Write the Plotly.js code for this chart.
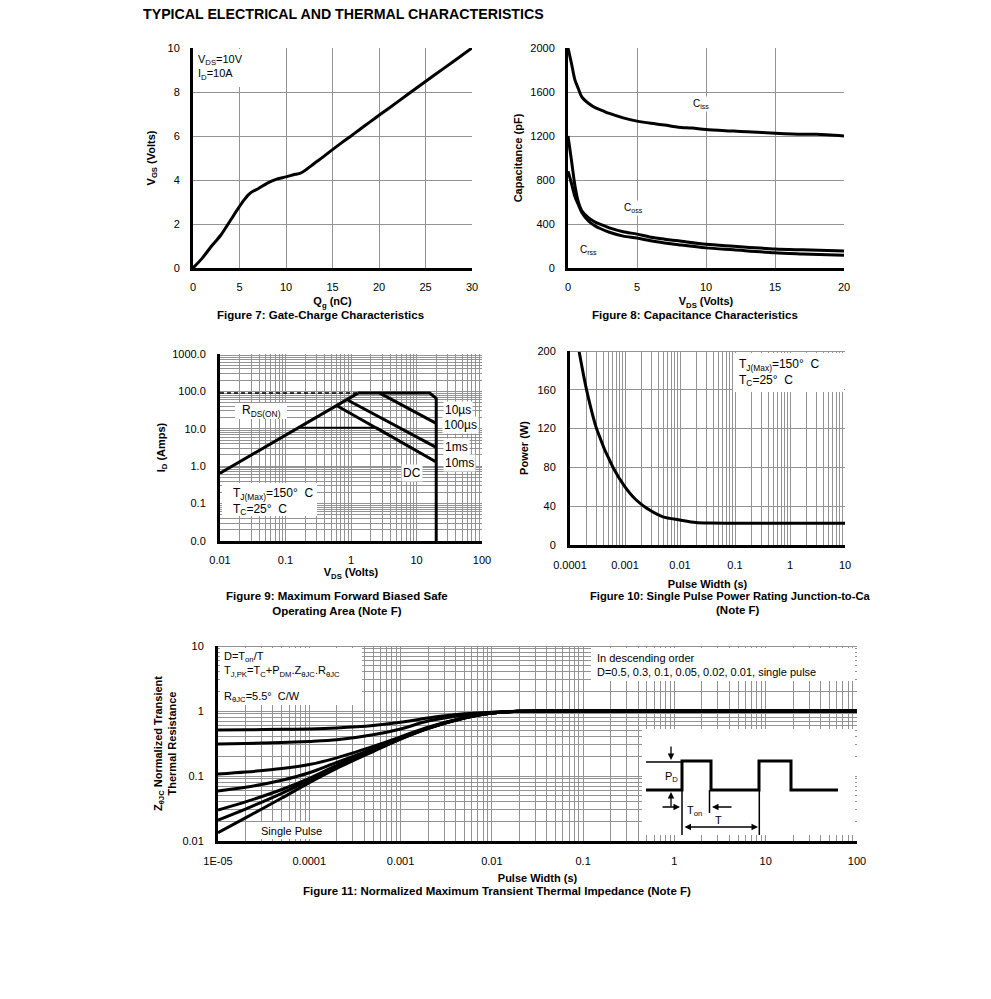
<!DOCTYPE html>
<html><head><meta charset="utf-8">
<script src="https://cdn.plot.ly/plotly-3.0.1.min.js"></script>
<style>html,body{margin:0;padding:0;background:#fff}#chart{width:991px;height:999px}</style>
</head><body><div id="chart"></div>
<script>
// ---------- Figure 7: Gate charge ----------
const qg  = [0, 1, 2, 3, 4, 5, 5.5, 6, 6.5, 7, 8, 9, 10, 11, 11.5, 12, 13, 14, 15, 16, 17, 18, 19, 20, 22, 24, 26, 28, 30];
const vgs = [0, 0.45, 1.0, 1.5, 2.15, 2.8, 3.1, 3.35, 3.5, 3.6, 3.86, 4.04, 4.14, 4.26, 4.3, 4.42, 4.74, 5.05, 5.38, 5.7, 6.0, 6.32, 6.63, 6.94, 7.55, 8.17, 8.78, 9.39, 10.0];

// ---------- Figure 8: Capacitance ----------
const vdsCiss = [0, 0.25, 0.5, 0.75, 1, 1.5, 2, 2.5, 3, 4, 5, 6, 7, 8, 9, 10, 12, 13, 15, 17, 18, 20];
const ciss    = [2000, 1860, 1710, 1630, 1555, 1495, 1455, 1430, 1405, 1365, 1335, 1315, 1300, 1280, 1272, 1258, 1245, 1238, 1225, 1215, 1215, 1200];
const vdsCap  = [0, 0.25, 0.5, 0.75, 1, 1.5, 2, 2.5, 3, 4, 5, 6, 7, 8, 10, 12, 15, 17, 20];
const coss    = [1200, 980, 750, 600, 520, 455, 415, 390, 365, 330, 308, 280, 262, 247, 215, 198, 173, 165, 155];
const crss    = [880, 770, 650, 575, 505, 425, 380, 350, 325, 290, 272, 247, 228, 212, 183, 165, 138, 128, 115];

// ---------- Figure 9: Safe operating area ----------
const rdsV   = [0.01, 1.28];   const rdsI   = [0.65, 90];
const limV   = [0.01, 1.28];   const limI   = [90, 90];
const us10V  = [1.28, 15.9, 20, 20]; const us10I = [90, 90, 65, 0.01];
const us100V = [2.75, 20];     const us100I = [90, 14];
const ms1V   = [0.9, 20];      const ms1I   = [58, 3.2];
const ms10V  = [0.6, 20];      const ms10I  = [42, 1.3];
const dcV    = [0.16, 2.5, 20]; const dcI   = [10.7, 10.7, 1.3];

// ---------- Figure 10: Single pulse power ----------
const pw  = [1.46e-4, 2e-4, 3.1e-4, 6.1e-4, 1e-3, 1.6e-3, 2.8e-3, 4.9e-3, 1e-2, 1.95e-2, 3.4e-2, 0.1, 1, 10];
const pwr = [200, 160, 118.6, 79.7, 60, 46.4, 36, 29, 25.8, 23.2, 22.6, 22.5, 22.5, 22.5];

// ---------- Figure 11: Transient thermal impedance ----------
const tw     = [1e-5, 2e-5, 5e-5, 1e-4, 2e-4, 5e-4, 1e-3, 2e-3, 5e-3, 1e-2, 2e-2, 5e-2, 0.1, 1, 10, 100];
const zD05   = [0.51, 0.515, 0.522, 0.53, 0.55, 0.60, 0.67, 0.78, 0.905, 0.96, 0.99, 1, 1, 1, 1, 1];
const zD03   = [0.31, 0.316, 0.327, 0.34, 0.36, 0.43, 0.53, 0.70, 0.87, 0.95, 0.99, 1, 1, 1, 1, 1];
const zD01   = [0.107, 0.115, 0.13, 0.150, 0.19, 0.285, 0.40, 0.565, 0.79, 0.935, 0.99, 1, 1, 1, 1, 1];
const zD005  = [0.059, 0.067, 0.086, 0.112, 0.162, 0.262, 0.385, 0.55, 0.785, 0.93, 0.99, 1, 1, 1, 1, 1];
const zD002  = [0.030, 0.040, 0.062, 0.092, 0.146, 0.25, 0.376, 0.545, 0.78, 0.93, 0.99, 1, 1, 1, 1, 1];
const zD001  = [0.021, 0.031, 0.054, 0.086, 0.139, 0.244, 0.372, 0.54, 0.78, 0.93, 0.99, 1, 1, 1, 1, 1];
const zSingle= [0.0134, 0.0227, 0.0458, 0.079, 0.131, 0.238, 0.37, 0.537, 0.78, 0.93, 0.99, 1, 1, 1, 1, 1];

// tick labels
const f9xTicks = [0.01, 0.1, 1, 10, 100];       const f9xText = ["0.01", "0.1", "1", "10", "100"];
const f9yTicks = [0.01, 0.1, 1, 10, 100, 1000]; const f9yText = ["0.0", "0.1", "1.0", "10.0", "100.0", "1000.0"];
const f10xTicks = [1e-4, 1e-3, 1e-2, 0.1, 1, 10]; const f10xText = ["0.0001", "0.001", "0.01", "0.1", "1", "10"];
const f11xTicks = [1e-5, 1e-4, 1e-3, 1e-2, 0.1, 1, 10, 100];
const f11xText  = ["1E-05", "0.0001", "0.001", "0.01", "0.1", "1", "10", "100"];
const f11yTicks = [0.01, 0.1, 1, 10]; const f11yText = ["0.01", "0.1", "1", "10"];

// ---------- layout helpers (pixel -> paper) ----------
const W = 991, H = 999;
const px = v => v / W;
const py = v => 1 - v / H;
const FONT = "Liberation Sans, Arial, Helvetica, sans-serif";
const GRID = "#939393";

function ln(x, y, xa, ya, extra) {
  return Object.assign({x: x, y: y, xaxis: xa, yaxis: ya, mode: "lines",
    line: {color: "#000", width: 3}, hoverinfo: "skip"}, extra || {});
}
const SP = {color: "#000", width: 3, shape: "spline", smoothing: 0.8};

const traces = [
  ln(qg, vgs, "x", "y", {line: SP}),
  ln(vdsCiss, ciss, "x2", "y2", {line: SP}),
  ln(vdsCap, coss, "x2", "y2", {line: SP}),
  ln(vdsCap, crss, "x2", "y2", {line: SP}),
  ln(limV, limI, "x3", "y3", {line: {color: "#000", width: 1.5, dash: "4px,3px"}}),
  ln(rdsV, rdsI, "x3", "y3"),
  ln(us10V, us10I, "x3", "y3"),
  ln(us100V, us100I, "x3", "y3"),
  ln(ms1V, ms1I, "x3", "y3"),
  ln(ms10V, ms10I, "x3", "y3"),
  ln(dcV, dcI, "x3", "y3", {line: {color: "#000", width: 2}}),
  ln(pw, pwr, "x4", "y4", {line: SP}),
  ln(tw, zD05, "x5", "y5", {line: SP}),
  ln(tw, zD03, "x5", "y5", {line: SP}),
  ln(tw, zD01, "x5", "y5", {line: SP}),
  ln(tw, zD005, "x5", "y5", {line: SP}),
  ln(tw, zD002, "x5", "y5", {line: SP}),
  ln(tw, zD001, "x5", "y5", {line: SP}),
  ln(tw, zSingle, "x5", "y5", {line: SP})
];

function axBase(extra) {
  return Object.assign({
    showline: true, linecolor: "#000", linewidth: 3, mirror: false,
    showgrid: true, gridcolor: GRID, gridwidth: 1, zeroline: false,
    ticks: "", tickfont: {family: FONT, size: 11, color: "#000"},
    fixedrange: true, automargin: false
  }, extra);
}
function aTitle(t, s) { return {text: t, font: {family: FONT, size: 11, color: "#000", weight: "bold"}, standoff: s}; }
const minorLog = {dtick: "D1", showgrid: true, gridcolor: GRID, gridwidth: 1, ticks: ""};

const layout = {
  width: W, height: H, margin: {l: 0, r: 0, t: 0, b: 0, pad: 0},
  paper_bgcolor: "#fff", plot_bgcolor: "#fff", showlegend: false,
  font: {family: FONT, size: 11, color: "#000"},
  // Figure 7
  xaxis: axBase({domain: [px(193), px(472)], anchor: "y", range: [0, 30], tickvals: [0, 5, 10, 15, 20, 25, 30],
    ticklabelstandoff: 7, title: aTitle("Q<sub>g</sub> (nC)", 6)}),
  yaxis: axBase({domain: [py(268), py(48)], anchor: "x", range: [0, 10], tickvals: [0, 2, 4, 6, 8, 10],
    ticklabelstandoff: 8, title: aTitle("V<sub>GS</sub> (Volts)", 10)}),
  // Figure 8
  xaxis2: axBase({domain: [px(568), px(844)], anchor: "y2", range: [0, 20], tickvals: [0, 5, 10, 15, 20],
    ticklabelstandoff: 7, title: aTitle("V<sub>DS</sub> (Volts)", 6)}),
  yaxis2: axBase({domain: [py(268), py(48)], anchor: "x2", range: [0, 2000], tickvals: [0, 400, 800, 1200, 1600, 2000],
    ticklabelstandoff: 8, title: aTitle("Capacitance (pF)", 6)}),
  // Figure 9
  xaxis3: axBase({domain: [px(220), px(482)], anchor: "y3", type: "log", range: [-2, 2],
    tickvals: f9xTicks, ticktext: f9xText, minor: minorLog, ticklabelstandoff: 7,
    title: aTitle("V<sub>DS</sub> (Volts)", 4)}),
  yaxis3: axBase({domain: [py(541), py(354)], anchor: "x3", type: "log", range: [-2, 3],
    tickvals: f9yTicks, ticktext: f9yText, minor: minorLog, ticklabelstandoff: 9,
    title: aTitle("I<sub>D</sub> (Amps)", 5)}),
  // Figure 10
  xaxis4: axBase({domain: [px(570), px(845)], anchor: "y4", type: "log", range: [-4, 1],
    tickvals: f10xTicks, ticktext: f10xText, minor: minorLog, ticklabelstandoff: 8,
    title: aTitle("Pulse Width (s)", 11)}),
  yaxis4: axBase({domain: [py(545), py(351)], anchor: "x4", range: [0, 200], tickvals: [0, 40, 80, 120, 160, 200],
    ticklabelstandoff: 9, title: aTitle("Power (W)", 7)}),
  // Figure 11
  xaxis5: axBase({domain: [px(218), px(857)], anchor: "y5", type: "log", range: [-5, 2],
    tickvals: f11xTicks, ticktext: f11xText, minor: minorLog, ticklabelstandoff: 8,
    title: aTitle("Pulse Width (s)", 9)}),
  yaxis5: axBase({domain: [py(841), py(646)], anchor: "x5", type: "log", range: [-2, 1],
    tickvals: f11yTicks, ticktext: f11yText, minor: minorLog, ticklabelstandoff: 9,
    title: aTitle("Z<sub>θJC</sub> Normalized Transient<br>Thermal Resistance", 4)}),
  shapes: [],
  annotations: []
};

// ---------- white label boxes, texts, inset ----------
function box(x0, y0, x1, y1) {
  layout.shapes.push({type: "rect", xref: "paper", yref: "paper", x0: px(x0), x1: px(x1), y0: py(y1), y1: py(y0),
    fillcolor: "#fff", line: {width: 0}, layer: "above"});
}
function txt(t, x, y, opt) {
  layout.annotations.push(Object.assign({text: t, xref: "paper", yref: "paper", x: px(x), y: py(y),
    xanchor: "left", yanchor: "middle", align: "left", showarrow: false, font: {family: FONT, size: 11, color: "#000"}}, opt || {}));
}
function segLine(x0, y0, x1, y1, w, col) {
  layout.shapes.push({type: "line", xref: "paper", yref: "paper", x0: px(x0), y0: py(y0), x1: px(x1), y1: py(y1),
    line: {color: col || "#000", width: w}, layer: "above"});
}
function arrow(xh, yh, dx, dy, side) {
  layout.annotations.push({xref: "paper", yref: "paper", x: px(xh), y: py(yh), ax: dx, ay: dy, text: "",
    showarrow: true, arrowhead: 2, arrowsize: 1, arrowwidth: 1.3, arrowcolor: "#000", arrowside: side || "end", standoff: 0, startstandoff: 0});
}
const B = {family: FONT, size: 11.5, color: "#000", weight: "bold"};
const F12 = {family: FONT, size: 12, color: "#000"};
const F10 = {family: FONT, size: 10, color: "#000"};

// plot-area top edges of figures 10 and 11
segLine(570, 351.5, 845, 351.5, 1, GRID);
segLine(218, 646.5, 857, 646.5, 1, GRID);

// headline and captions
txt("TYPICAL ELECTRICAL AND THERMAL CHARACTERISTICS", 141, 14, {font: {family: FONT, size: 14.2, color: "#000", weight: "bold"}});
txt("Figure 7: Gate-Charge Characteristics", 320, 315, {xanchor: "center", font: B});
txt("Figure 8: Capacitance Characteristics", 695, 315, {xanchor: "center", font: B});
txt("Figure 9: Maximum Forward Biased Safe<br>Operating Area (Note F)", 337, 603, {xanchor: "center", align: "center", font: B});
txt("Figure 10: Single Pulse Power Rating Junction-to-Ca", 588, 596, {font: {family: FONT, size: 11.2, color: "#000", weight: "bold"}});
txt("(Note F)", 738, 610, {xanchor: "center", font: B});
txt("Figure 11: Normalized Maximum Transient Thermal Impedance (Note F)", 497, 891, {xanchor: "center", font: B});

// Figure 7 label
box(195, 49, 243, 87);
txt("V<sub>DS</sub>=10V<br>I<sub>D</sub>=10A", 196, 67);

// Figure 8 labels
txt("C<sub>iss</sub>", 701, 104, {xanchor: "center", bgcolor: "#fff", font: F10});
txt("C<sub>oss</sub>", 633, 208, {xanchor: "center", bgcolor: "#fff", font: F10});
txt("C<sub>rss</sub>", 588, 250, {xanchor: "center", bgcolor: "#fff", font: F10});

// Figure 9 labels
box(235, 403, 287, 419);
txt("R<sub>DS(ON)</sub>", 240, 411, {font: F12});
txt("10µs", 443, 410, {bgcolor: "#fff", font: F12});
txt("100µs", 442, 425, {bgcolor: "#fff", font: F12});
txt("1ms", 443, 447, {bgcolor: "#fff", font: F12});
txt("10ms", 443, 463, {bgcolor: "#fff", font: F12});
txt("DC", 401, 473, {bgcolor: "#fff", font: F12});
box(222, 483, 317, 516);
txt("T<sub>J(Max)</sub>=150°\u00a0 C<br>T<sub>C</sub>=25°\u00a0 C", 231, 501, {font: F12});

// Figure 10 label
box(733, 353, 844, 392);
txt("T<sub>J(Max)</sub>=150°\u00a0 C<br>T<sub>C</sub>=25°\u00a0 C", 737, 372, {font: F12});

// Figure 11 labels
box(220, 648, 362, 705);
txt("D=T<sub>on</sub>/T<br>T<sub>J,PK</sub>=T<sub>C</sub>+P<sub>DM</sub>.Z<sub>θJC</sub>.R<sub>θJC</sub>", 222, 664);
txt("R<sub>θJC</sub>=5.5°\u00a0 C/W", 222, 697);
box(591, 648, 855, 681);
txt("In descending order<br>D=0.5, 0.3, 0.1, 0.05, 0.02, 0.01, single pulse", 595, 665);
box(256, 822, 327, 839);
txt("Single Pulse", 291, 831, {xanchor: "center"});

// Figure 11 inset: pulse train diagram
box(642, 729, 855, 835);
layout.shapes.push({type: "path", xref: "paper", yref: "paper", layer: "above", line: {color: "#000", width: 3},
  path: "M" + [[646,790],[682,790],[682,761],[711,761],[711,790],[759,790],[759,761],[791,761],[791,790],[838,790]]
    .map(p => px(p[0]) + "," + py(p[1])).join(" L")});
segLine(646, 762, 682, 762, 1.3);
segLine(682, 790, 682, 835, 1.5);
segLine(709.5, 790, 709.5, 813, 1.5);
segLine(759.3, 790, 759.3, 835, 1.5);
arrow(671, 760, 0, -15);
arrow(671, 792, 0, 16);
arrow(680, 807, -19, 0);
arrow(712, 807, 21, 0);
arrow(758, 827, -75, 0, "end+start");
txt("P<sub>D</sub>", 671, 777, {xanchor: "center"});
txt("T<sub>on</sub>", 694, 811, {xanchor: "center"});
txt("T", 718, 820, {xanchor: "center"});

Plotly.newPlot("chart", traces, layout, {staticPlot: true, displayModeBar: false});
</script>
</body></html>
